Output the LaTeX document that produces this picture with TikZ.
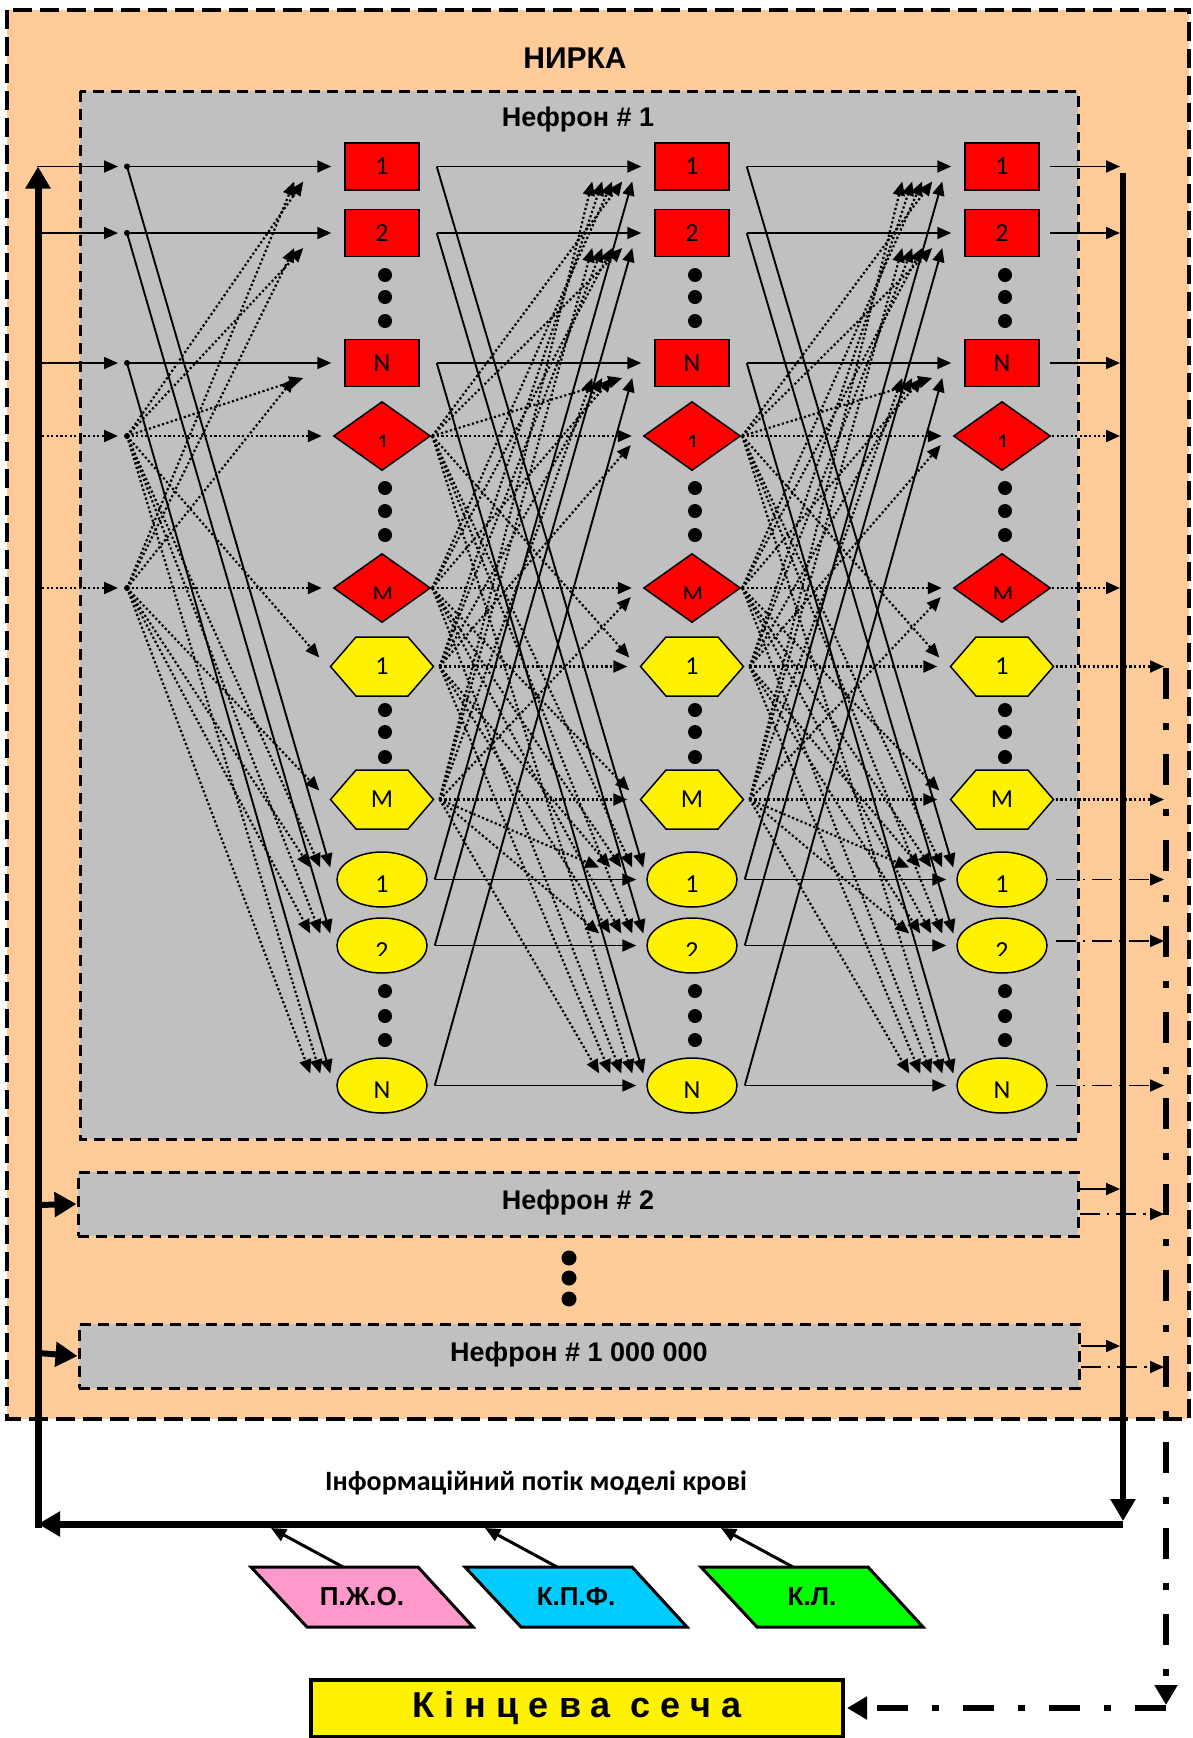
\documentclass[tikz,border=0pt]{standalone}
\usepackage{fontspec}
\setmainfont{Liberation Sans}
\newfontfamily\calib{Carlito}
\usetikzlibrary{arrows.meta,shapes.geometric}
\definecolor{kidney}{RGB}{255,204,153}
\definecolor{neph}{RGB}{192,192,192}
\definecolor{pzho}{RGB}{255,153,204}
\definecolor{kpf}{RGB}{0,204,255}
\definecolor{kl}{RGB}{0,255,0}
\tikzset{
  >={Triangle[length=14pt,width=12pt]},
  sol/.style={line width=1.9pt,->},
  dotln/.style={line width=2.2pt,dash pattern=on 2.2pt off 2.4pt,->},
  ddash/.style={line width=1.9pt,dash pattern=on 20pt off 7pt on 2.5pt off 7pt,->},
  fat/.style={line width=7pt,-{Triangle[length=22pt,width=24pt]}},
  bigdd/.style={line width=5.5pt,dash pattern=on 31pt off 24pt on 7pt off 24pt,-{Triangle[length=20pt,width=22pt]}},
  sqbox/.style={rectangle,draw,line width=1.5pt,fill=red,minimum width=74pt,minimum height=47pt,inner sep=0pt,font=\calib\fontsize{26}{26}\selectfont},
  rhomb/.style={diamond,draw,line width=1.5pt,fill=red,minimum width=97pt,minimum height=69pt,inner sep=0pt},
  hexlook/.style={draw,line width=1.5pt,fill=yellow},
  hexbox/.style={rectangle,minimum width=103pt,minimum height=59pt,inner sep=0pt,font=\calib\fontsize{26}{26}\selectfont},
  oval/.style={ellipse,draw,line width=1.5pt,fill=yellow,minimum width=90pt,minimum height=55pt,inner sep=0pt},
  numtxt/.style={font=\calib\fontsize{26}{26}\selectfont,inner sep=0pt},
  rhtxt/.style={font=\calib\fontsize{24}{24}\selectfont,inner sep=0pt,anchor=north},
  headtxt/.style={font=\bfseries\fontsize{27}{27}\selectfont},
  nephbox/.style={draw,fill=neph,line width=3pt,dash pattern=on 11pt off 7pt,minimum width=1000pt,minimum height=64pt,text height=20pt,text depth=10pt,font=\bfseries\fontsize{27}{27}\selectfont},
  paratxt/.style={font=\bfseries\fontsize{26}{26}\selectfont},
}
\begin{document}
\begin{tikzpicture}[x=1pt,y=-1pt]
\useasboundingbox (0,0) rectangle (1192,1738);
% kidney frame
\filldraw[fill=kidney,line width=4pt,dash pattern=on 19pt off 8pt] (7,10) rectangle (1189,1419);
\node[headtxt,font=\bfseries\fontsize{30}{30}\selectfont] (kidney) at (575,58) {НИРКА};
% nephron 1
\filldraw[fill=neph,line width=3pt,dash pattern=on 11pt off 7pt] (80,91) rectangle (1078,1139);
\node[headtxt] (neph1) at (578,120) {Нефрон \# 1};
\node[nephbox] (neph2) at (578,1204) {Нефрон \# 2};
\node[nephbox] (nephM) at (579,1356) {Нефрон \# 1 000 000};
\foreach \y in {1258,1278,1299} \fill (569,\y) circle (7.5);

% three columns of elements
\foreach \col/\x in {1/382,2/692,3/1002}{
  \node[sqbox] (n-a-\col) at (\x,166.5) {1};
  \node[sqbox] (n-b-\col) at (\x,233) {2};
  \node[sqbox] (n-c-\col) at (\x,363) {N};
  \node[rhomb] (n-d-\col) at (\x,436) {};
  \node[rhomb] (n-e-\col) at (\x,588) {};
  \begin{scope}
    \clip (\x-30,425) rectangle (\x+30,446);
    \node[rhtxt] (t-d-\col) at (\x+1,435) {1};
  \end{scope}
  \begin{scope}
    \clip (\x-30,580) rectangle (\x+30,598);
    \node[rhtxt] (t-e-\col) at (\x+1,587) {M};
  \end{scope}
  \foreach \rw/\y/\txt in {f/666.5/1,g/799.5/M}{
    \filldraw[hexlook] (\x-51.5,\y) -- (\x-26,\y-29.5) -- (\x+26,\y-29.5) -- (\x+51.5,\y)
      -- (\x+26,\y+29.5) -- (\x-26,\y+29.5) -- cycle;
    \node[hexbox] (n-\rw-\col) at (\x,\y) {\txt};
  }
  \node[oval] (n-h-\col) at (\x,879.5) {};
  \node[oval] (n-i-\col) at (\x,945.5) {};
  \node[oval] (n-j-\col) at (\x,1085.5) {};
  \node[numtxt] (t-h-\col) at (\x,884.5) {1};
  \node[numtxt] (t-j-\col) at (\x,1090.5) {N};
  \begin{scope}
    \clip (\x-30,930) rectangle (\x+30,955.5);
    \node[numtxt,anchor=north] (t-i-\col) at (\x,942) {2};
  \end{scope}
  \foreach \y in {275,297,321,488,511,535,710,732,757,991,1016,1040}
    \fill (\x+3,\y) circle (7);
}

% inputs of nephron 1
\foreach \rw/\y in {a/166.5,b/233,c/363}{
  \coordinate (l-\rw) at (37,\y);
  \coordinate (s-\rw-1) at (127,\y);
  \draw[sol] (l-\rw) -- ([xshift=-9pt]s-\rw-1);
  \fill (s-\rw-1) circle (3);
}
\foreach \rw/\y in {d/436,e/588}{
  \coordinate (l-\rw) at (42,\y);
  \coordinate (s-\rw-1) at (127,\y);
  \draw[dotln] (l-\rw) -- ([xshift=-9pt]s-\rw-1);
  \fill (s-\rw-1) circle (3);
}
\foreach \rw in {a,b,c} \draw[sol] (s-\rw-1) -- ([xshift=-13pt]n-\rw-1.west);
\foreach \rw in {d,e} \draw[dotln] (s-\rw-1) -- ([xshift=-11pt]n-\rw-1.west);
\foreach \src/\dst in {a/h,b/i,c/j} \draw[sol] (s-\src-1) -- ([xshift=-6pt,yshift=12pt]n-\dst-1.west);
\foreach \src/\dst in {d/f,e/g} \draw[dotln] (s-\src-1) -- ([xshift=-11pt,yshift=9pt]n-\dst-1.west);
\foreach \src/\kk in {d/1,e/2}{
  \foreach \dst in {a,b,c} \draw[dotln] (s-\src-1) -- ([xshift=-32pt-9pt*\kk,yshift=-15pt]n-\dst-1.west);
  \foreach \dst in {h,i,j} \draw[dotln] (s-\src-1) -- ([xshift=-6pt-10pt*\kk,yshift=12pt]n-\dst-1.west);
}

% links between columns
\foreach \stg/\prv in {2/1,3/2}{
  \foreach \rw/\off in {a/17,b/17,c/17,d/1,e/1,f/6,g/6,h/7,i/7,j/7}
    \coordinate (s-\rw-\stg) at ([xshift=\off pt]n-\rw-\prv.east);
  \foreach \rw/\gap in {a/13,b/13,c/13,h/10,i/10,j/10}
    \draw[sol] (s-\rw-\stg) -- ([xshift=-\gap pt]n-\rw-\stg.west);
  \foreach \src/\dst in {a/h,b/i,c/j}{
    \draw[sol] (s-\src-\stg) -- ([xshift=-3pt,yshift=12pt]n-\dst-\stg.west);
    \draw[sol] (s-\dst-\stg) -- ([xshift=-22pt,yshift=-15pt]n-\src-\stg.west);
  }
  \foreach \rw/\gap in {d/11,e/11,f/13,g/13}
    \draw[dotln] (s-\rw-\stg) -- ([xshift=-\gap pt]n-\rw-\stg.west);
  \foreach \src/\dst in {d/f,e/g}{
    \draw[dotln] (s-\src-\stg) -- ([xshift=-11pt,yshift=9pt]n-\dst-\stg.west);
    \draw[dotln] (s-\dst-\stg) -- ([xshift=-12pt,yshift=-9pt]n-\src-\stg.west);
  }
  \foreach \src/\kk in {d/1,e/2,f/3,g/4}{
    \foreach \dst in {a,b,c} \draw[dotln] (s-\src-\stg) -- ([xshift=-22pt-10pt*\kk,yshift=-15pt]n-\dst-\stg.west);
    \foreach \dst in {h,i,j} \draw[dotln] (s-\src-\stg) -- ([xshift=-3pt-11pt*\kk,yshift=12pt]n-\dst-\stg.west);
  }
}

% outputs of nephron 1
\foreach \rw/\y in {a/166.5,b/233,c/363}{
  \coordinate (o-\rw) at (1120,\y);
  \draw[sol] ([xshift=10pt]n-\rw-3.east) -- (o-\rw);
}
\foreach \rw/\y in {d/436,e/588}{
  \coordinate (o-\rw) at (1120,\y);
  \draw[dotln] ([xshift=1pt]n-\rw-3.east) -- (o-\rw);
}
\foreach \rw/\y in {f/666.5,g/799.5}{
  \coordinate (q-\rw) at (1164,\y);
  \draw[dotln] ([xshift=2pt]n-\rw-3.east) -- (q-\rw);
}
\foreach \rw/\y in {h/879.5,i/941,j/1085.5}{
  \coordinate (q-\rw) at (1164,\y);
  \draw[ddash] ([xshift=8pt]n-\rw-3.east |- q-\rw) -- (q-\rw);
}

% other nephrons
\coordinate (l-n2) at (38,1205);
\coordinate (l-nM) at (38,1353);
\draw[fat,line width=6pt] (l-n2) -- (neph2.west);
\draw[fat,line width=6pt] (l-nM) -- (nephM.west);
\coordinate (o-n2) at (1120,1189);
\coordinate (q-n2) at (1164,1214);
\coordinate (o-nM) at (1120,1346);
\coordinate (q-nM) at (1164,1367);
\draw[sol] (neph2.east |- o-n2) -- (o-n2);
\draw[ddash] (neph2.east |- q-n2) -- (q-n2);
\draw[sol] (nephM.east |- o-nM) -- (o-nM);
\draw[ddash] (nephM.east |- q-nM) -- (q-nM);

% blood model loop
\coordinate (rtop) at (1123,173);
\coordinate (rbot) at (1123,1521);
\coordinate (bus-r) at (1123,1524);
\coordinate (bus-l) at (38,1524);
\coordinate (ltop) at (38,166.5);
\draw[fat,line width=6pt] (rtop) -- (rbot);
\draw[fat] (bus-r) -- (bus-l);
\draw[fat] ([yshift=-3.5pt]bus-l) -- (ltop);
\node[font=\calib\bfseries\fontsize{28}{28}\selectfont] (flow) at (536,1483) {Інформаційний потік моделі крові};

% blood components
\foreach \nm/\x/\txt in {pzho/251/П.Ж.О.,kpf/465/К.П.Ф.,kl/701/К.Л.}{
  \filldraw[fill=\nm,line width=3pt] (\x,1567) -- (\x+167,1567) -- (\x+222,1627) -- (\x+56,1627) -- cycle;
  \node[paratxt] (\nm) at (\x+111,1597) {\txt};
  \coordinate (\nm-out) at (\x+92,1567);
  \coordinate (\nm-in) at (\x+20,1528);
  \draw[line width=3pt,-{Triangle[length=15pt,width=13pt]}] (\nm-out) -- (\nm-in);
}

% final urine
\node[draw,line width=4pt,fill=yellow,minimum width=532pt,minimum height=57pt,inner sep=0pt,
  font=\bfseries\fontsize{36}{36}\selectfont\addfontfeature{LetterSpace=28}] (urine) at (577,1708) {Кінцева сеча};
\coordinate (dtop) at (1166,668);
\coordinate (dbot) at (1166,1708);
\draw[bigdd] (dtop) -- ([yshift=3pt]dbot);
\draw[bigdd] (dbot) -- ([xshift=2pt]urine.east);
\end{tikzpicture}
\end{document}
